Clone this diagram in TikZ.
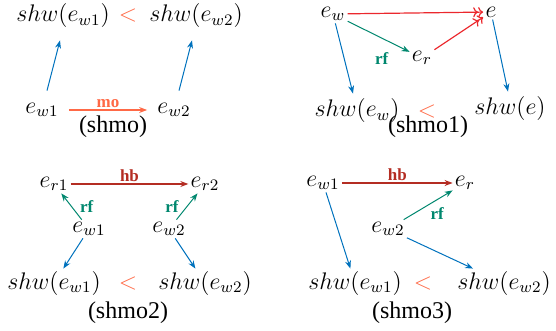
\documentclass[tikz,border=0pt]{standalone}
\usepackage{fontspec}
\setmainfont{Liberation Serif}
\usepackage{tikz}
\usepackage{xcolor}
\usetikzlibrary{arrows.meta}
\definecolor{shwblue}{RGB}{0,114,189}
\definecolor{moorange}{RGB}{255,105,70}
\definecolor{rfgreen}{RGB}{0,135,110}
\definecolor{hbred}{RGB}{180,45,35}
\definecolor{ordred}{RGB}{235,40,45}

\begin{document}
\begin{tikzpicture}[x=0.5pt, y=-0.5pt,
    every node/.style={inner sep=1pt, font=\fontsize{12}{14}\selectfont},
    lbl/.style={font=\fontsize{8.5}{10}\selectfont\bfseries},
    shwarr/.style={shwblue, line width=0.5pt, -{Stealth[length=4pt,width=3pt]}},
    moarr/.style={moorange, line width=0.6pt, -{Stealth[length=4pt,width=3pt]}},
    rfarr/.style={rfgreen, line width=0.5pt, -{Stealth[length=4pt,width=3pt]}},
    hbarr/.style={hbred, line width=0.6pt, -{Stealth[length=4pt,width=3pt]}},
    ordarr/.style={ordred, line width=0.6pt, -{To[length=2.5pt,width=5pt]To[length=2.5pt,width=5pt]}}]
  \useasboundingbox (0,0) rectangle (556,331);
  % (shmo)
  \node (a-shw1) at (63,16) {$shw(e_{w1})$};
  \node[moorange] (a-lt) at (128,16) {$<$};
  \node (a-shw2) at (196,16) {$shw(e_{w2})$};
  \node (a-ew1) at (42,110) {$e_{w1}$};
  \node (a-ew2) at (174,110) {$e_{w2}$};
  \node (a-name) at (113,127) {(shmo)};
  \draw[moarr, shorten <=4pt, shorten >=4pt] (a-ew1) -- node[lbl, moorange, above] {mo} (a-ew2);
  \draw[shwarr] ([shift={(5,-10)}]a-ew1.north) -- ([shift={(-3,10)}]a-shw1.south);
  \draw[shwarr] ([shift={(5,-10)}]a-ew2.north) -- ([shift={(-4,10)}]a-shw2.south);
  % (shmo1)
  \node (b-ew) at (333,14) {$e_w$};
  \node (b-e) at (491,12) {$e$};
  \node (b-er) at (422,58) {$e_r$};
  \node (b-shwew) at (357,111) {$shw(e_w)$};
  \node[moorange] (b-lt) at (427,112) {$<$};
  \node (b-shwe) at (510,109) {$shw(e)$};
  \node (b-name) at (428,127) {(shmo1)};
  \draw[ordarr] (b-ew) -- (b-e);
  \draw[rfarr] (b-ew) -- node[lbl, rfgreen, pos=0.55, below=6pt] {rf} (b-er);
  \draw[ordarr] (b-er) -- (b-e);
  \draw[shwarr] (b-ew) -- ([shift={(-4,-3)}]b-shwew.north);
  \draw[shwarr] (b-e) -- ([shift={(-2,-3)}]b-shwe.north);
  % (shmo2)
  \node (c-er1) at (54,184) {$e_{r1}$};
  \node (c-er2) at (205,184) {$e_{r2}$};
  \node (c-ew1) at (89,229) {$e_{w1}$};
  \node (c-ew2) at (169,229) {$e_{w2}$};
  \node (c-shw1) at (54,283) {$shw(e_{w1})$};
  \node[moorange] (c-lt) at (128,283) {$<$};
  \node (c-shw2) at (205,283) {$shw(e_{w2})$};
  \node (c-name) at (128,313) {(shmo2)};
  \draw[hbarr] (c-er1) -- node[lbl, hbred, above] {hb} (c-er2);
  \draw[rfarr] (c-ew1) -- node[lbl, rfgreen, right=3pt] {rf} (c-er1);
  \draw[rfarr] (c-ew2) -- node[lbl, rfgreen, left=3pt] {rf} (c-er2);
  \draw[shwarr] (c-ew1) -- (c-shw1);
  \draw[shwarr] (c-ew2) -- (c-shw2);
  % (shmo3)
  \node (d-ew1) at (323,183) {$e_{w1}$};
  \node (d-er) at (465,183) {$e_r$};
  \node (d-ew2) at (388,229) {$e_{w2}$};
  \node (d-shw1) at (355,283) {$shw(e_{w1})$};
  \node[moorange] (d-lt) at (423,283) {$<$};
  \node (d-shw2) at (504,283) {$shw(e_{w2})$};
  \node (d-name) at (412,313) {(shmo3)};
  \draw[hbarr] (d-ew1) -- node[lbl, hbred, above] {hb} (d-er);
  \draw[rfarr] (d-ew2) -- node[lbl, rfgreen, below right] {rf} (d-er);
  \draw[shwarr] (d-ew1) -- (d-shw1);
  \draw[shwarr] (d-ew2) -- (d-shw2);
\end{tikzpicture}
\end{document}
